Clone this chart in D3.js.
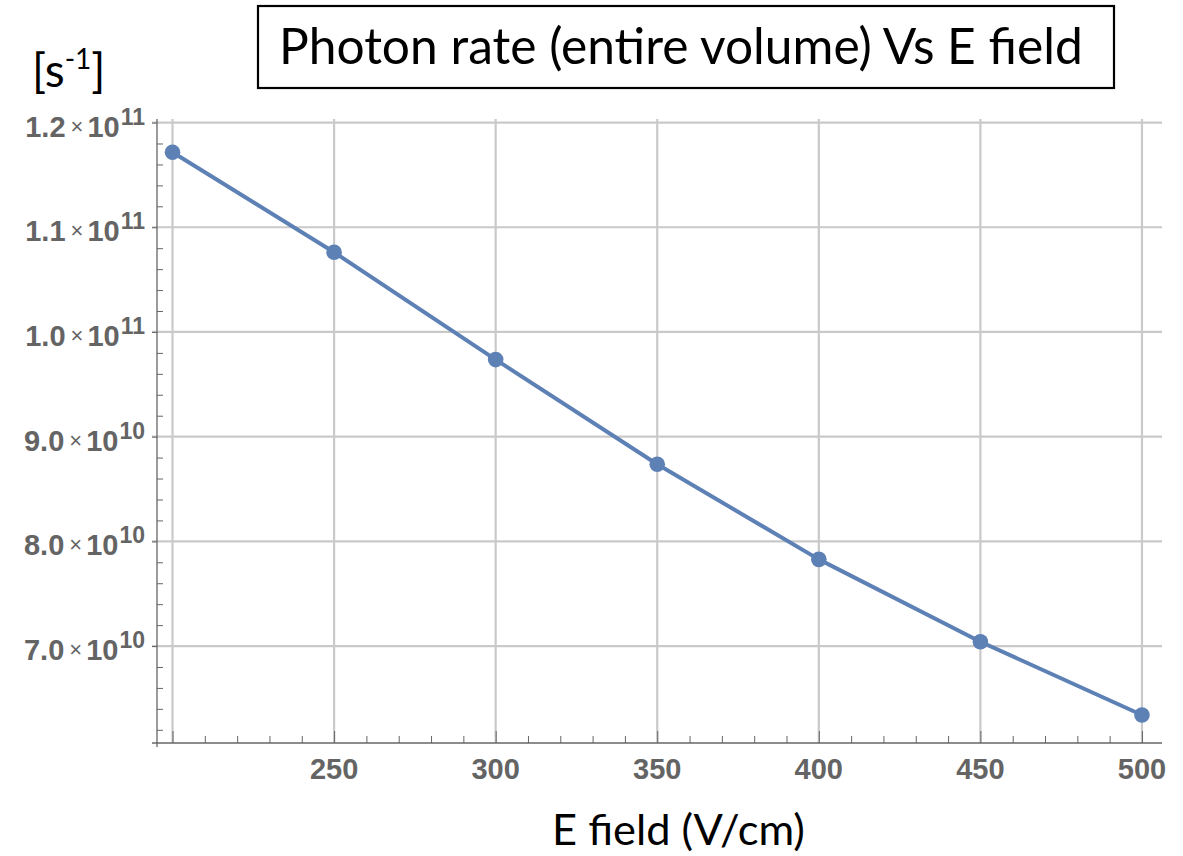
<!DOCTYPE html>
<html>
<head>
<meta charset="utf-8">
<script src="https://cdn.jsdelivr.net/npm/d3@7/dist/d3.min.js"></script>
<style>
  html, body { margin: 0; padding: 0; background: #fff; }
  svg { display: block; }
</style>
</head>
<body>
<svg id="chart" width="1183" height="856"></svg>
<script>
// Photon rate over the entire volume as a function of drift field
const fieldValues = [200, 250, 300, 350, 400, 450, 500];          // V/cm
const photonRates = [1.1717e11, 1.0761e11, 9.736e10, 8.736e10, 7.828e10, 7.041e10, 6.341e10]; // s^-1

const xMajorTicks = [200, 250, 300, 350, 400, 450, 500];
const xTickLabels = ["", "250", "300", "350", "400", "450", "500"];
const yMajorTicks = [7e10, 8e10, 9e10, 1e11, 1.1e11, 1.2e11];
const yTickMantissas = ["7.0", "8.0", "9.0", "1.0", "1.1", "1.2"];
const yTickExponents = ["10", "10", "10", "11", "11", "11"];

const titleText = "Photon rate (entire volume) Vs E field";
const xAxisTitle = "E field (V/cm)";

const svg = d3.select("#chart");

const plot = { left: 157, right: 1162, top: 119, bottom: 743 };

const x = d3.scaleLinear().domain([195.2, 506.2]).range([plot.left, plot.right]);
const y = d3.scaleLinear().domain([6.074e10, 1.2034e11]).range([plot.bottom, plot.top]);

const gridColor = "#c9c9c9";
const axisColor = "#666666";
const labelColor = "#646464";
const lineColor = "#5e81b5";

// grid
const grid = svg.append("g");
grid.selectAll("line.v").data(xMajorTicks).join("line")
  .attr("x1", d => x(d)).attr("x2", d => x(d))
  .attr("y1", plot.top).attr("y2", plot.bottom)
  .attr("stroke", gridColor).attr("stroke-width", 2.2);
grid.selectAll("line.h").data(yMajorTicks).join("line")
  .attr("x1", plot.left - 5).attr("x2", plot.right)
  .attr("y1", d => y(d)).attr("y2", d => y(d))
  .attr("stroke", gridColor).attr("stroke-width", 2.2);

// x axis with inward ticks
const xMinor = d3.range(200, 501, 10).filter(v => v % 50 !== 0);
const xAxisG = svg.append("g").attr("transform", `translate(0,${plot.bottom})`);
xAxisG.call(d3.axisTop(x).tickValues(xMajorTicks).tickSize(12).tickFormat(""))
  .call(g => g.select(".domain").remove());
xAxisG.selectAll(".tick line").attr("stroke", axisColor).attr("stroke-width", 1);
const xMinorG = svg.append("g").attr("transform", `translate(0,${plot.bottom})`);
xMinorG.call(d3.axisTop(x).tickValues(xMinor).tickSize(7).tickFormat(""))
  .call(g => g.select(".domain").remove());
xMinorG.selectAll(".tick line").attr("stroke", axisColor).attr("stroke-width", 1);
svg.append("line")
  .attr("x1", plot.left - 5).attr("x2", plot.right)
  .attr("y1", plot.bottom).attr("y2", plot.bottom)
  .attr("stroke", axisColor).attr("stroke-width", 1.3);

svg.append("g").selectAll("text").data(xMajorTicks).join("text")
  .attr("x", d => x(d)).attr("y", plot.bottom + 36)
  .attr("text-anchor", "middle")
  .attr("font-family", "Liberation Sans, Arial, sans-serif")
  .attr("font-weight", "bold").attr("font-size", 29)
  .attr("fill", labelColor)
  .text((d, i) => xTickLabels[i]);

// y axis: majors stick outward, minors point inward
const yMinor = d3.range(62e9, 120.5e9, 2e9).filter(v => Math.round(v / 1e9) % 10 !== 0);
const yAxisG = svg.append("g").attr("transform", `translate(${plot.left},0)`);
yAxisG.call(d3.axisLeft(y).tickValues(yMajorTicks).tickSize(5).tickFormat(""))
  .call(g => g.select(".domain").remove());
yAxisG.selectAll(".tick line").attr("stroke", axisColor).attr("stroke-width", 1);
const yMinorG = svg.append("g").attr("transform", `translate(${plot.left},0)`);
yMinorG.call(d3.axisRight(y).tickValues(yMinor).tickSize(6).tickFormat(""))
  .call(g => g.select(".domain").remove());
yMinorG.selectAll(".tick line").attr("stroke", axisColor).attr("stroke-width", 1);
svg.append("line")
  .attr("x1", plot.left).attr("x2", plot.left)
  .attr("y1", plot.top).attr("y2", plot.bottom + 4)
  .attr("stroke", axisColor).attr("stroke-width", 1.3);

const yLabels = svg.append("g").selectAll("text").data(yMajorTicks).join("text")
  .attr("x", plot.left - 12).attr("y", d => y(d) + 14)
  .attr("text-anchor", "end")
  .attr("font-family", "Liberation Sans, Arial, sans-serif")
  .attr("font-weight", "bold")
  .attr("fill", labelColor);
yLabels.append("tspan").attr("font-size", 29).text((d, i) => yTickMantissas[i]);
yLabels.append("tspan").attr("font-size", 22).attr("font-weight", "normal")
  .attr("dx", 5).attr("dy", -3).text("\u00d7");
yLabels.append("tspan").attr("font-size", 29).attr("dx", 4).attr("dy", 3).text("10");
yLabels.append("tspan").attr("font-size", 23).attr("dx", 1).attr("dy", -12)
  .text((d, i) => yTickExponents[i]);

// data line and markers
const line = d3.line().x((d, i) => x(fieldValues[i])).y(d => y(d));
svg.append("path").datum(photonRates)
  .attr("d", line).attr("fill", "none")
  .attr("stroke", lineColor).attr("stroke-width", 4)
  .attr("stroke-linejoin", "round");
svg.append("g").selectAll("circle").data(photonRates).join("circle")
  .attr("cx", (d, i) => x(fieldValues[i])).attr("cy", d => y(d))
  .attr("r", 7.8).attr("fill", lineColor);

// helper: size a text element so it spans the given width
function fitWidth(sel, width) {
  sel.attr("font-size", 100);
  const w = sel.node().getComputedTextLength();
  sel.attr("font-size", 100 * width / w);
}

const textFont = "Lato, 'Open Sans', sans-serif";

// title box
svg.append("rect")
  .attr("x", 258).attr("y", 6).attr("width", 856).attr("height", 82)
  .attr("fill", "#fff").attr("stroke", "#000").attr("stroke-width", 2.2);
const title = svg.append("text")
  .attr("x", 279).attr("y", 64)
  .attr("font-family", textFont).attr("fill", "#000")
  .text(titleText);
fitWidth(title, 804);

// unit label
const unit = svg.append("text")
  .attr("x", 32).attr("y", 87)
  .attr("font-family", textFont).attr("font-size", 46).attr("fill", "#000");
unit.append("tspan").text("[s");
unit.append("tspan").attr("font-size", 28).attr("dy", -18).text("-1");
unit.append("tspan").attr("dy", 18).text("]");

// x axis title
const xt = svg.append("text")
  .attr("x", 552).attr("y", 845)
  .attr("font-family", textFont).attr("fill", "#000")
  .text(xAxisTitle);
fitWidth(xt, 253);
</script>
</body>
</html>
